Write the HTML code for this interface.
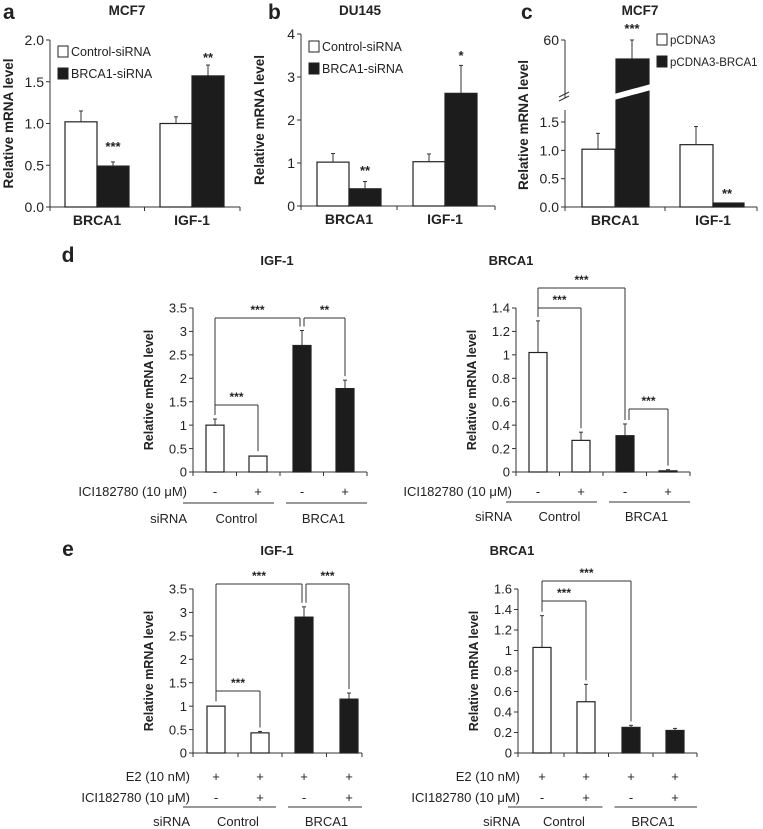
<!DOCTYPE html>
<html><head><meta charset="utf-8"><style>
html,body{margin:0;padding:0;background:#fff;}
svg{display:block;font-family:"Liberation Sans",Arial,sans-serif;}
</style></head><body>
<svg id="fig" width="763" height="829" viewBox="0 0 763 829"></svg>
<script>
// ---- data ----
const aCats = ["BRCA1","IGF-1"];
const aCtrl = [1.02, 1.0];   const aCtrlErr = [0.13, 0.08];
const aSi   = [0.49, 1.57];  const aSiErr   = [0.05, 0.13];
const aTicks = ["0.0","0.5","1.0","1.5","2.0"];
const bCtrl = [1.02, 1.03];  const bCtrlErr = [0.2, 0.18];
const bSi   = [0.40, 2.62];  const bSiErr   = [0.17, 0.65];
const bTicks = ["0","1","2","3","4"];
const cCtrl = [1.02, 1.1];   const cCtrlErr = [0.28, 0.32];
const cOver = [50, 0.07];    const cOverErr = [10, 0];
const cTicks = ["0.0","0.5","1.0","1.5"];
const dIgf = [1.0, 0.34, 2.7, 1.78];   const dIgfErr = [0.13, 0.02, 0.32, 0.18];
const dBr  = [1.02, 0.27, 0.31, 0.01]; const dBrErr  = [0.27, 0.07, 0.1, 0.01];
const eIgf = [1.0, 0.43, 2.9, 1.15];   const eIgfErr = [0.02, 0.03, 0.22, 0.13];
const eBr  = [1.03, 0.5, 0.25, 0.22];  const eBrErr  = [0.31, 0.17, 0.02, 0.02];
const dTicksIgf = ["0","0.5","1","1.5","2","2.5","3","3.5"];
const dTicksBr  = ["0","0.2","0.4","0.6","0.8","1","1.2","1.4"];
const eTicksBr  = ["0","0.2","0.4","0.6","0.8","1","1.2","1.4","1.6"];

const svg = document.getElementById('fig');
const NS = 'http://www.w3.org/2000/svg';
function mk(tag, attrs, parent){
  const el = document.createElementNS(NS, tag);
  for (const k in attrs) el.setAttribute(k, attrs[k]);
  (parent||svg).appendChild(el);
  return el;
}
function txt(x,y,s,size,weight,anchor,name,parent){
  const t = mk('text',{x:x,y:y,'font-size':size,'font-weight':weight||'normal','text-anchor':anchor||'middle',fill:'#222'},parent);
  t.textContent = s;
  
  
  return t;
}
function line(x1,y1,x2,y2,name,parent,w){
  const l = mk('line',{x1:x1,y1:y1,x2:x2,y2:y2,stroke:'#333','stroke-width':w||1},parent);
  
  
  return l;
}
function bar(x,w,y0,yv,fill,name,parent){
  const r = mk('rect',{x:x,y:Math.min(y0,yv),width:w,height:Math.abs(y0-yv),fill:fill,stroke:'#222','stroke-width':1.2},parent);
  
  
  return r;
}
function err(cx,yTop,yErr,name,parent){
  if (Math.abs(yTop-yErr) < 1) return;
  line(cx,yTop,cx,yErr,name,parent);
  line(cx-2,yErr,cx+2,yErr,name+'-cap',parent);
}
function yAxis(ax,y0,yTop,ticks,tmax,fs,name,g){
  line(ax,y0,ax,yTop,name,g);
  ticks.forEach((t,i)=>{
    const y = y0 - (y0-yTop)*i/(ticks.length-1);
    line(ax-4,y,ax,y,name+'-tick',g);
    txt(ax-6,y+fs*0.36,t,fs,'normal','end',name+'-label',g);
  });
}
function yTitle(x,yc,fs,g){
  const t = txt(0,0,"Relative mRNA level",fs,'bold','middle','y-axis-title',g);
  t.setAttribute('transform','translate('+x+','+yc+') rotate(-90)');
}
function group(name){
  const g = mk('g',{});
  
  
  return g;
}

// ---- top panels (a, b) ----
function topPanel(letter,lx,title,tx,ax,axEnd,y0,yTop,ticks,tmax,ctrl,ctrlE,si,siE,xs,legend,lgx,lgy){
  const g = group('panel-'+letter);
  txt(lx,19,letter,21,'bold','start','panel-letter',g);
  txt(tx,15,title,13.5,'bold','middle','panel-title',g);
  const sy = v => y0 - (y0-yTop)*v/tmax;
  yAxis(ax,y0,yTop,ticks,tmax,14,'y-axis',g);
  line(ax,y0,axEnd,y0,'x-axis',g);
  [ax, (xs[0]+64+xs[1])/2, axEnd].forEach(x=>line(x,y0,x,y0+4,'x-tick',g));
  yTitle(ax-37,(y0+yTop)/2,13.5,g);
  for(let i=0;i<2;i++){
    bar(xs[i],32,y0,sy(ctrl[i]),'#fff','bar-control-'+aCats[i],g);
    err(xs[i]+16,sy(ctrl[i]),sy(ctrl[i]+ctrlE[i]),'error-bar',g);
    bar(xs[i]+32,32,y0,sy(si[i]),'#1c1c1c','bar-treated-'+aCats[i],g);
    err(xs[i]+48,sy(si[i]),sy(si[i]+siE[i]),'error-bar',g);
    txt(xs[i]+32,y0+18,aCats[i],14,'bold','middle','category-label',g);
  }
  legend.forEach((s,i)=>{
    const r = mk('rect',{x:lgx,y:lgy+i*22-10,width:10,height:11,fill:i?'#1c1c1c':'#fff',stroke:'#222'},g);
    
    
    txt(lgx+13,lgy+i*22,s,12.5,'normal','start','legend-entry',g);
  });
  return {g:g,sy:sy};
}
const pa = topPanel('a',3,'MCF7',127,50,240,207,40,aTicks,2.0,aCtrl,aCtrlErr,aSi,aSiErr,[65,160],["Control-siRNA","BRCA1-siRNA"],58,56);
txt(113,151,'***',13,'bold','middle','significance',pa.g);
txt(208,62,'**',13,'bold','middle','significance',pa.g);
const pb = topPanel('b',268,'DU145',360,301,495,206,34,bTicks,4,bCtrl,bCtrlErr,bSi,bSiErr,[317,413],["Control-siRNA","BRCA1-siRNA"],309,51);
txt(365,175,'**',13,'bold','middle','significance',pb.g);
txt(461,60,'*',13,'bold','middle','significance',pb.g);

// ---- panel c (broken axis) ----
(function(){
  const g = group('panel-c');
  txt(521,19,'c',21,'bold','start','panel-letter',g);
  txt(640,15,'MCF7',13.5,'bold','middle','panel-title',g);
  const ax=565, y0=207, yTop=122, axEnd=757;
  const sy = v => y0-(y0-yTop)*v/1.5;
  const su = v => 40+(60-v)*1.9;
  yAxis(ax,y0,yTop,cTicks,1.5,14,'y-axis',g);
  line(ax,y0,ax,110,'y-axis',g);
  line(ax,98,ax,40,'y-axis-upper',g);
  line(ax-4,40,ax,40,'y-axis-tick',g);
  txt(ax-6,45,'60',14,'normal','end','y-axis-label',g);
  line(ax-6,97,ax+4,92,'axis-break',g);
  line(ax-6,101,ax+4,96,'axis-break',g);
  line(ax,y0,axEnd,y0,'x-axis',g);
  [ax,665,axEnd].forEach(x=>line(x,y0,x,y0+4,'x-tick',g));
  yTitle(ax-37,125,13.5,g);
  const xs=[582,680], cats=["BRCA1","IGF-1"];
  for(let i=0;i<2;i++){
    bar(xs[i],33,y0,sy(cCtrl[i]),'#fff','bar-pcdna3-'+cats[i],g);
    err(xs[i]+16,sy(cCtrl[i]),sy(cCtrl[i]+cCtrlErr[i]),'error-bar',g);
    txt(xs[i]+33,y0+18,cats[i],14,'bold','middle','category-label',g);
  }
  bar(616,33,y0,su(cOver[0]),'#1c1c1c','bar-pcdna3-brca1-BRCA1',g);
  err(632,su(cOver[0]),su(cOver[0]+cOverErr[0]),'error-bar',g);
  const brk = mk('polygon',{points:'614,94 651,84 651,90 614,100',fill:'#fff'},g);
  
  
  bar(713,31,y0,sy(cOver[1]),'#1c1c1c','bar-pcdna3-brca1-IGF-1',g);
  txt(632,33,'***',13,'bold','middle','significance',g);
  txt(727,198,'**',13,'bold','middle','significance',g);
  ["pCDNA3","pCDNA3-BRCA1"].forEach((s,i)=>{
    const r = mk('rect',{x:657,y:44+i*22-10,width:10,height:11,fill:i?'#1c1c1c':'#fff',stroke:'#222'},g);
    
    
    txt(670,44+i*22,s,11.5,'normal','start','legend-entry',g);
  });
})();

// ---- panels d, e ----
function lowPanel(name,title,tx,ty,ax,axEnd,y0,yTop,ticks,tmax,vals,errs,xs,w,rows,rowY,ulY,sirY,labX,brackets){
  const g = group(name);
  txt(tx,ty,title,13,'bold','middle','panel-title',g);
  const sy = v => y0-(y0-yTop)*v/tmax;
  yAxis(ax,y0,yTop,ticks,tmax,13,'y-axis',g);
  line(ax,y0,axEnd,y0,'x-axis',g);
  const centers = xs.map(x=>x+w/2);
  [ax,(centers[0]+centers[1])/2,(centers[1]+centers[2])/2,(centers[2]+centers[3])/2,axEnd].forEach(x=>line(x,y0,x,y0+4,'x-tick',g));
  yTitle(ax-40,(y0+yTop)/2,12.5,g);
  vals.forEach((v,i)=>{
    bar(xs[i],w,y0,sy(v),i<2?'#fff':'#1c1c1c','bar-'+i,g);
    err(centers[i],sy(v),sy(v+errs[i]),'error-bar',g);
  });
  rows.forEach((r,ri)=>{
    txt(labX,rowY[ri]+4,r[0],13,'normal','end','row-label',g);
    r[1].forEach((s,i)=>txt(centers[i],rowY[ri]+4,s,13,'normal','middle','treatment-sign',g));
  });
  line(ax-10,ulY,(centers[1]+centers[2])/2-6,ulY,'group-underline-control',g);
  line((centers[1]+centers[2])/2+6,ulY,axEnd,ulY,'group-underline-brca1',g);
  txt(labX,sirY+4,'siRNA',13,'normal','end','row-label',g);
  txt((centers[0]+centers[1])/2,sirY+4,'Control',13,'normal','middle','group-label',g);
  txt((centers[2]+centers[3])/2,sirY+4,'BRCA1',13,'normal','middle','group-label',g);
  brackets.forEach(b=>{
    const [i,j,yb,lab,offL,offR]=b;
    const x1=centers[i]+offL, x2=centers[j]+offR;
    const y1=sy(vals[i]+errs[i])-4, y2=sy(vals[j]+errs[j])-4;
    line(x1,yb,x2,yb,'significance-bracket',g);
    line(x1,yb,x1,y1,'significance-bracket',g);
    line(x2,yb,x2,y2,'significance-bracket',g);
    txt((x1+x2)/2,yb-4,lab,12,'bold','middle','significance',g);
  });
}
txt(68,262,'d',21,'bold','middle','panel-letter');
lowPanel('panel-d-igf1','IGF-1',277,265,193,367,472,308,dTicksIgf,3.5,dIgf,dIgfErr,[206,249,293,336],18,
  [["ICI182780 (10 μM)",["-","+","-","+"]]],[492],503,519,187,
  [[0,2,318,'***',0,-2],[2,3,318,'**',2,0],[0,1,405,'***',0,0]]);
lowPanel('panel-d-brca1','BRCA1',511,265,516,690,472,308,dTicksBr,1.4,dBr,dBrErr,[529,572,616,659],18,
  [["ICI182780 (10 μM)",["-","+","-","+"]]],[492],502,517,512,
  [[0,2,288,'***',0,0],[0,1,308,'***',0,0],[2,3,409,'***',4,0]]);
txt(68,556,'e',21,'bold','middle','panel-letter');
lowPanel('panel-e-igf1','IGF-1',277,555,193,362,753,589,dTicksIgf,3.5,eIgf,eIgfErr,[207,251,295,340],18,
  [["E2 (10 nM)",["+","+","+","+"]],["ICI182780 (10 μM)",["-","+","-","+"]]],[777,798],807,822,190,
  [[0,2,584,'***',0,-2],[2,3,584,'***',2,0],[0,1,691,'***',0,0]]);
lowPanel('panel-e-brca1','BRCA1',512,555,518,697,753,589,eTicksBr,1.6,eBr,eBrErr,[533,577,622,666],18,
  [["E2 (10 nM)",["+","+","+","+"]],["ICI182780 (10 μM)",["-","+","-","+"]]],[777,798],807,822,520,
  [[0,2,581,'***',0,0],[0,1,601,'***',0,0]]);
</script>
</body></html>
